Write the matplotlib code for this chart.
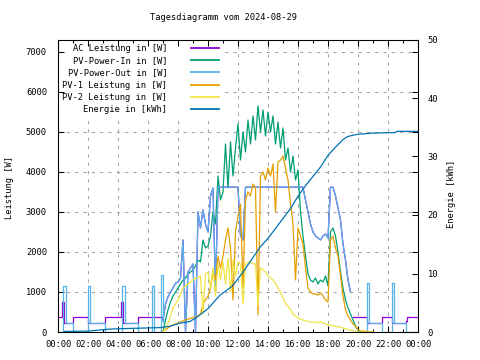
import numpy as np
import matplotlib
matplotlib.use("Agg")
import matplotlib.pyplot as plt
from matplotlib.ticker import FixedLocator, MultipleLocator

plt.rcParams['font.family'] = ['DejaVu Sans Mono']
fs = 6.3

# 10-minute samples 07:00 .. 21:00
day_t = np.arange(7 * 6, 21 * 6 + 1) / 6.0

pv_in_day = [
    0, 300, 550, 750, 900, 1000,
    1100, 1200, 1300, 1350, 1450, 1500,
    1550, 1650, 1800, 1750, 2300, 2100,
    2150, 2400, 3000, 2700, 3900, 3300,
    3500, 4700, 3600, 4750, 3900, 4600,
    5200, 4300, 5000, 4500, 5300, 4700,
    5400, 4800, 5650, 5000, 5550, 4900,
    5500, 5000, 5400, 4700, 5250, 4600,
    5100, 4300, 4600, 4000, 4400, 3800,
    4050, 3000, 2400, 1900, 1450, 1300,
    1250, 1350, 1200, 1300, 1250, 1400,
    1150, 2500, 2600, 2400, 2000, 1500,
    1100, 800, 600, 450, 300, 150,
    40, 0, 0, 0, 0, 0,
    0]
pv1_day = [
    30, 60, 100, 150, 180, 200,
    220, 250, 280, 300, 320, 340,
    360, 370, 400, 450, 700, 800,
    900, 1100, 1500, 1300, 1900, 1600,
    1900, 2300, 2600, 2100, 800, 2500,
    2900, 3200, 1100, 3300, 3500, 3400,
    3700, 3600, 430, 3900, 4000, 3800,
    4100, 3900, 4200, 3000, 4250, 4300,
    4400, 4100, 3800, 3200, 2700, 1300,
    2600, 2400, 2200, 1600, 1100, 1000,
    950, 950, 920, 980, 900, 800,
    750, 2300, 2400, 2100, 1900, 1400,
    900, 550, 400, 300, 200, 150,
    60, 30, 20, 20, 10, 0,
    0]
pv2_day = [
    0, 100, 220, 400, 600, 700,
    800, 950, 1100, 1150, 1200, 1250,
    1300, 1350, 1350, 1400, 470, 1450,
    1500, 1100, 1600, 900, 1700, 1300,
    1750, 1200, 1850, 1000, 1800, 1400,
    1750, 1700, 700, 1700, 1750, 1750,
    1700, 1700, 650, 1600, 1550, 1500,
    1400, 1350, 1300, 1200, 1100, 1000,
    850, 700, 650, 550, 450, 400,
    350, 320, 300, 280, 260, 250,
    250, 240, 230, 260, 220, 200,
    180, 170, 160, 140, 130, 120,
    100, 80, 60, 50, 30, 10,
    0, 0, 0, 0, 0, 0,
    0]
pv_out_day = [
    300, 700, 880, 1000, 1100, 1220,
    1250, 1350, 2300, 0, 1500, 1600,
    1700, 0, 3000, 2600, 3050, 2700,
    2500, 3400, 3600, 1000, 3600, 3620,
    3620, 3620, 3620, 3620, 3620, 3620,
    3620, 2400, 2300, 3620, 3620, 3620,
    3620, 3620, 3620, 3620, 3620, 3620,
    3620, 3620, 3620, 3620, 3620, 3620,
    3620, 3620, 3620, 3620, 3620, 3620,
    3620, 3620, 3620, 3300, 3000, 2700,
    2500, 2400, 2350, 2300, 2400, 2450,
    2350, 3620, 3620, 3400, 3100, 2800,
    2200, 1800, 1300, 1000, 0, 0,
    0, 0, 0, 0, 0, 0,
    0]

# night-time events (step values)
out_am_t = [0, 0.33, 0.5, 1.0, 2.0, 2.13, 3.13, 4.27, 4.47, 5.33, 6.27, 6.4, 6.87, 6.97, 7.0]
out_am_w = [0, 1150, 230, 0, 1150, 230, 0, 1150, 230, 0, 1150, 0, 1420, 260, 300]
out_pm_t = [19.67, 20.6, 20.7, 21.6, 22.27, 22.4, 23.2, 24]
out_pm_w = [0, 1220, 220, 0, 1220, 220, 0, 0]
ac_am_t = [0, 0.27, 0.4, 1.0, 2.0, 3.13, 4.2, 4.33, 5.33, 7.0]
ac_am_w = [370, 750, 230, 370, 230, 370, 750, 230, 370, 300]
ac_pm_t = [19.67, 20.6, 21.6, 22.27, 23.2, 23.27, 24]
ac_pm_w = [370, 220, 370, 220, 280, 370, 370]

energy_t = [0.45, 2.0, 2.8, 3.5, 4.6, 6.8, 7.5, 8.1, 8.8, 9.3, 10.0, 10.8, 11.6,
            12.3, 12.8, 13.5, 14.0, 14.5, 15.0, 15.5, 16.0, 16.5, 17.0, 17.5,
            18.0, 18.5, 19.0, 19.3, 19.6, 20.0, 21.0, 22.5, 22.6, 24.0]
energy_kwh = [0.1, 0.15, 0.35, 0.5, 0.6, 0.75, 1.0, 1.5, 1.8, 2.6, 4.0, 6.3, 7.8,
              10.1, 12.0, 14.6, 16.0, 17.7, 19.4, 21.1, 23.2, 25.0, 26.6, 28.2,
              30.2, 31.6, 32.9, 33.4, 33.6, 33.8, 34.0, 34.1, 34.3, 34.3]

tick_hours = list(range(0, 25, 2))
tick_labels = [f"{h % 24:02d}:00" for h in tick_hours]
power_ticks = list(range(0, 7001, 1000))

mask = day_t < 19.6
out_day_t = day_t[mask]
out_day_w = np.array(pv_out_day)[mask]

c_ac, c_in, c_out, c_pv1, c_pv2, c_en = '#9400d3', '#009e73', '#56b4e9', '#e69f00', '#f0e442', '#0072b2'

fig = plt.figure(figsize=(4.8, 3.6), dpi=100)
ax = fig.add_axes([58 / 480, 28 / 360, 360 / 480, 292.5 / 360])
ax2 = ax.twinx()

# grid drawn by hand so the key box can sit between grid and ticks
grid_kw = dict(color='#a0a0a0', linestyle=(0, (3, 5)), linewidth=0.75, zorder=0.5)
for h in tick_hours[1:-1]:
    ax.axvline(h, **grid_kw)
for w in power_ticks[1:]:
    ax.axhline(w, **grid_kw)

lw = 0.9
# AC (mostly hidden behind PV-Power-Out during the day)
h1, = ax.plot(ac_am_t, ac_am_w, color=c_ac, lw=lw, drawstyle='steps-post', label='AC Leistung in [W]')
ax.plot(out_day_t, out_day_w, color=c_ac, lw=lw)
ax.plot(ac_pm_t, ac_pm_w, color=c_ac, lw=lw, drawstyle='steps-post')
h2, = ax.plot(day_t, pv_in_day, color=c_in, lw=lw, label='PV-Power-In in [W]')
h3, = ax.plot(out_am_t, out_am_w, color=c_out, lw=lw, drawstyle='steps-post', label='PV-Power-Out in [W]')
ax.plot(out_day_t, out_day_w, color=c_out, lw=lw)
ax.plot(out_pm_t, out_pm_w, color=c_out, lw=lw, drawstyle='steps-post')
h4, = ax.plot(day_t, pv1_day, color=c_pv1, lw=lw, label='PV-1 Leistung in [W]')
h5, = ax.plot(day_t, pv2_day, color=c_pv2, lw=lw, label='PV-2 Leistung in [W]')
h6, = ax2.plot(energy_t, energy_kwh, color=c_en, lw=lw, label='Energie in [kWh]')

ax.set_xlim(0, 24)
ax.set_ylim(0, 7312)
ax2.set_ylim(0, 50)

ax.xaxis.set_major_locator(FixedLocator(tick_hours))
ax.set_xticklabels(tick_labels)
ax.xaxis.set_minor_locator(MultipleLocator(1))
ax.yaxis.set_major_locator(FixedLocator(power_ticks))
ax2.yaxis.set_major_locator(MultipleLocator(10))

ax.tick_params(axis='both', which='major', direction='in', length=4, width=0.75,
               top=True, right=True, labelsize=fs)
ax.tick_params(axis='x', which='minor', direction='in', length=2.5, width=0.75, top=True)
ax.tick_params(axis='y', pad=8)
ax.tick_params(axis='x', pad=6)
ax2.tick_params(axis='y', direction='in', length=4, width=0.75, labelsize=fs, pad=7)
for a in (ax, ax2):
    for s in a.spines.values():
        s.set_linewidth(0.75)

fig.text(224 / 480, 1 - 18 / 360, 'Tagesdiagramm vom 2024-08-29', ha='center', va='center', fontsize=fs)
fig.text(10 / 480, 1 - 187 / 360, 'Leistung [W]', rotation=90, ha='center', va='center', fontsize=fs)
fig.text(452 / 480, 1 - 194 / 360, 'Energie [kWh]', rotation=90, ha='center', va='center', fontsize=fs)

handles = [h1, h2, h3, h4, h5, h6]
leg = ax.legend(handles, [h.get_label() for h in handles],
                loc='upper left', bbox_to_anchor=(58 / 480, 1 - 40 / 360), bbox_transform=fig.transFigure,
                frameon=True, markerfirst=False, handlelength=3.2, handletextpad=2.7,
                labelspacing=0.35, borderpad=0.5, borderaxespad=0, fontsize=fs,
                fancybox=False, facecolor='white', edgecolor='none', framealpha=1)
leg.set_zorder(1)
for line in leg.get_lines():
    line.set_linewidth(1.3)

fig.savefig('out.png', dpi=100)
